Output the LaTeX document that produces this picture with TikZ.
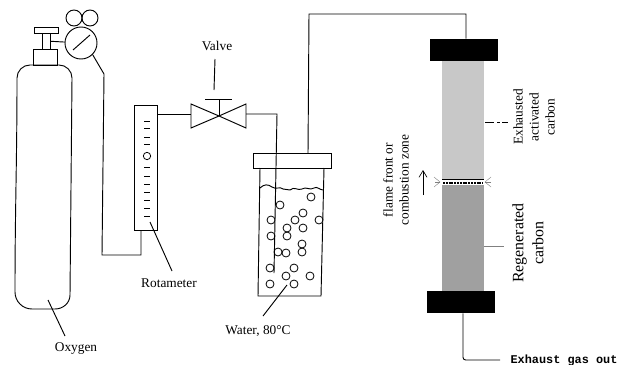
\documentclass[tikz,border=0pt]{standalone}
\usepackage{fontspec}
\setmainfont{Liberation Serif}
\setmonofont{Liberation Mono}
\usepackage{xcolor}
\usetikzlibrary{arrows.meta,calc,positioning}
\definecolor{spent}{RGB}{200,200,200}
\definecolor{regen}{RGB}{160,160,160}
\begin{document}
\begin{tikzpicture}[x=0.75pt,y=-0.75pt,>={Straight Barb[length=5pt,width=6pt]},
  every node/.style={font=\normalsize,inner sep=0pt},
  pipe/.style={draw,line width=0.7pt},
  leader/.style={draw,line width=0.7pt},
  sidetext/.style={rotate=90,align=center},
  bubble/.style={circle,draw,line width=0.6pt,minimum size=6pt}]
  \useasboundingbox (0,0) rectangle (620,364);
  % cylinder
  \draw[pipe] (17,78) to[out=-90,in=90] (15,292) to[out=-90,in=180] (32,309) -- (55,309)
    to[out=0,in=-90] (70,295) -- (72,78) to[out=90,in=0] (59,65) -- (30,65) to[out=180,in=90] (17,78);
  \node[draw,line width=0.7pt,minimum width=18pt,minimum height=12pt] (neck) at (45,57) {};
  \node[draw,line width=0.7pt,minimum width=6pt,minimum height=12pt] (stem) at (46,41) {};
  \node[draw,line width=0.7pt,minimum width=18pt,minimum height=4.5pt] (handle) at (46,30) {};
  % regulator
  \node[circle,draw,line width=0.7pt,minimum size=24pt] (gauge) at (81,43) {};
  \node[circle,draw,line width=0.7pt,minimum size=12pt] (dialA) at (74,18) {};
  \node[circle,draw,line width=0.7pt,minimum size=12pt] (dialB) at (90,18) {};
  \draw[pipe] (stem) -- (gauge);
  \draw[pipe] (73,50) -- (90,35);
  % rotameter
  \node[draw,line width=0.7pt,minimum width=17pt,minimum height=94pt] (rota) at (146,168) {};
  \foreach \y in {121,128,137,144,167,176,184,192,200,208,216}
    \draw (144,\y) -- (150,\y);
  \node[circle,draw,line width=0.6pt,minimum size=5.5pt] (ball) at (147,156) {};
  \coordinate (rotaout) at (141,231);
  \draw[pipe] (gauge.-45) -- (104,74) -- (102,255) -- (141,255) -- (rotaout);
  % valve
  \coordinate (vc) at (219,116);
  \draw[line width=0.7pt] (vc) -- (191,104) -- (191,128) -- cycle;
  \draw[line width=0.7pt] (vc) -- (246,104) -- (246,128) -- cycle;
  \draw[pipe] (vc) -- (219,99);
  \draw[pipe] (205,99) -- (232,99);
  \draw[pipe] (rota.east |- 0,114) -- (191,114);
  \draw[pipe] (246,114) -- (277,114) -- (274,273);
  \node (valve) at (217,46) {Valve};
  \draw[leader] (215,59) -- (214,90);
  % water jar
  \node[draw,line width=0.7pt,minimum width=58.5pt,minimum height=11pt] (lid) at (292,161) {};
  \draw[pipe] (260,168) -- (258,296) -- (321,296) -- (324,168);
  \draw[pipe] (260,188) .. controls (264,184) and (268,184) .. (272,187)
    .. controls (276,190) and (280,186) .. (283,189) -- (290,190)
    .. controls (294,186) and (298,191) .. (302,189) .. controls (306,186) and (310,191) .. (314,188)
    .. controls (317,186) and (320,190) .. (323,190);
  \foreach \x/\y in {311/197,280/205,303/213,271/220,295/220,319/220,287/228,303/228,271/236,287/236,
    302/244,278/252,286/253,302/252,294/268,270/268,286/276,310/276,270/284,294/284}
    \node[bubble] at (\x,\y) {};
  % column
  \fill[spent] (442,61) rectangle (484,179);
  \fill[regen] (442,185) rectangle (484,291);
  \node[fill=black,minimum width=51pt,minimum height=16.5pt] (topcap) at (464,50) {};
  \node[fill=black,minimum width=51pt,minimum height=16.5pt] (botcap) at (461,302) {};
  \draw[line width=0.5pt] (442,179) -- (484,179);
  \draw[line width=1.4pt,dash pattern=on 1.5pt off 0.6pt] (443,183) -- (483,183);
  \draw[pipe] (lid.north -| 308,0) -- (309,14) -- (466,14) -- (topcap.north -| 466,0);
  \draw[pipe,rounded corners=2pt] (botcap.south -| 463,0) -- (463,360) -- (500,360);
  % flame rays
  \foreach \a/\b in {434/177,435/182,434/187}
    \draw[line width=0.3pt,gray] (\a,\b) -- (440,182);
  \foreach \a/\b in {491/177,491/182,491/187}
    \draw[line width=0.3pt,gray] (\a,\b) -- (485,182);
  \draw[->,line width=0.5pt] (423,195) -- (423,170);
  % labels
  \node[sidetext] (flame) at (396,180) {flame front or\\combustion zone};
  \node[sidetext] (spentlabel) at (534,117) {Exhausted\\activated\\carbon};
  \node[sidetext,font=\fontsize{11.9}{15}\selectfont] (regenlabel) at (528,243) {Regenerated\\carbon};
  \draw[leader,dash pattern=on 7pt off 2pt on 2pt off 2pt] (485,122) -- (508,122);
  \draw[leader,gray] (484,246) -- (504,246);
  \node (oxygen) at (76,349) {Oxygen};
  \draw[leader] (48,300) -- (65,336);
  \node (rotalabel) at (169,283) {Rotameter};
  \draw[leader] (150,222) -- (172,271);
  \node (water) at (258,331) {Water, 80\textdegree C};
  \draw[leader] (287,285) -- (263,316);
  \node[font=\ttfamily\bfseries\fontsize{8.9}{10}\selectfont] (exhaust) at (564,360) {Exhaust gas out};
\end{tikzpicture}
\end{document}
